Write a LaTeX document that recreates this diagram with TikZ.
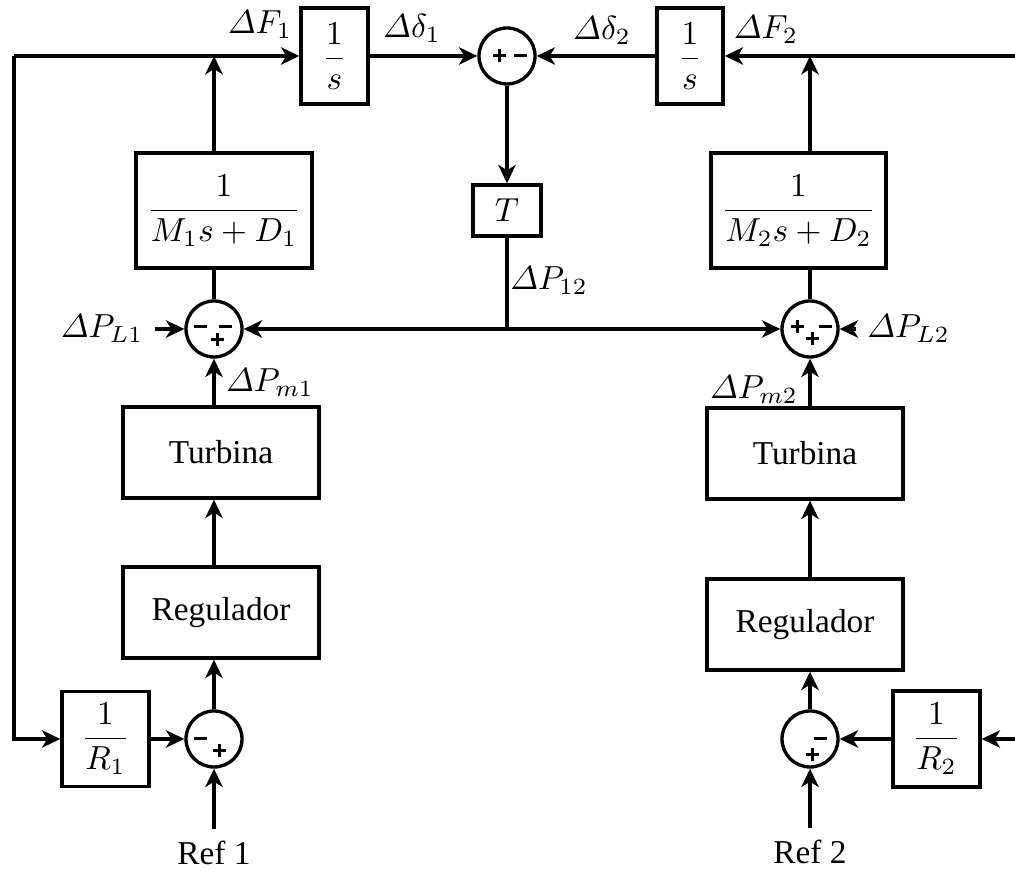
\documentclass[tikz,border=0pt]{standalone}
\usepackage{amsmath}
\usepackage[no-math]{fontspec}
\setmainfont{Liberation Serif}
\usepackage{tikz}
\usetikzlibrary{arrows.meta,calc,positioning}

\newcommand{\sgnplus}{\rlap{\rule[1.5pt]{3.9pt}{0.9pt}}\hspace{1.5pt}\rule{0.9pt}{3.9pt}\hspace{1.5pt}}
\newcommand{\sgnminus}{\rule{3.9pt}{0.9pt}}

\tikzset{
  blk/.style={draw,line width=1pt,inner sep=2pt},
  sumj/.style={draw,circle,line width=1pt,minimum size=16.8pt,inner sep=0pt},
  sgn/.style={inner sep=0pt},
  wire/.style={line width=1pt},
  sig/.style={wire,-{Stealth[length=5.5pt,width=5.2pt,inset=1.6pt]}},
}

\begin{document}
\begin{tikzpicture}[x=30pt,y=30pt]
  \useasboundingbox (0,0) rectangle (10.15,8.71);
  % top row
  \node[blk,minimum width=20.1pt,minimum height=28.8pt] (f1) at (3.345,8.15) {$\dfrac{1}{s}$};
  \node[blk,minimum width=19.8pt,minimum height=28.8pt] (f2) at (6.90,8.15) {$\dfrac{1}{s}$};
  \node[sumj] (sd) at (5.07,8.15) {};
  \node[blk,minimum width=20.4pt,minimum height=15.3pt] (t) at (5.07,6.605) {$T$};
  % area 1
  \node[blk,minimum width=52.8pt,minimum height=34.5pt] (g1) at (2.24,6.605) {$\dfrac{1}{M_1s+D_1}$};
  \node[sumj] (s1) at (2.14,5.42) {};
  \node[blk,minimum width=58.8pt,minimum height=27.3pt] (tb1) at (2.21,4.185) {Turbina};
  \node[blk,minimum width=58.8pt,minimum height=27.3pt] (rg1) at (2.21,2.585) {Regulador};
  \node[sumj] (c1) at (2.14,1.32) {};
  \node[blk,minimum width=26.1pt,minimum height=28.5pt] (r1) at (1.055,1.32) {$\dfrac{1}{R_1}$};
  \node (ref1) at (2.14,0.18) {Ref 1};
  % area 2
  \node[blk,minimum width=52.5pt,minimum height=34.5pt] (g2) at (7.985,6.605) {$\dfrac{1}{M_2s+D_2}$};
  \node[sumj] (s2) at (8.10,5.42) {};
  \node[blk,minimum width=58.8pt,minimum height=27.3pt] (tb2) at (8.05,4.175) {Turbina};
  \node[blk,minimum width=58.8pt,minimum height=27.3pt] (rg2) at (8.05,2.465) {Regulador};
  \node[sumj] (c2) at (8.10,1.32) {};
  \node[blk,minimum width=26.1pt,minimum height=28.8pt] (r2) at (9.365,1.32) {$\dfrac{1}{R_2}$};
  \node (ref2) at (8.10,0.19) {Ref 2};

  % signs
  \node[sgn] (sd-p) at ($(sd)+(-0.10,0)$) {\sgnplus};
  \node[sgn] (sd-m) at ($(sd)+(0.13,0)$) {\sgnminus};
  \node[sgn] (s1-m1) at ($(s1)+(-0.14,0.02)$) {\sgnminus};
  \node[sgn] (s1-m2) at ($(s1)+(0.11,0.02)$) {\sgnminus};
  \node[sgn] (s1-p) at ($(s1)+(0.01,-0.11)$) {\sgnplus};
  \node[sgn] (s2-p1) at ($(s2)+(-0.15,0.02)$) {\sgnplus};
  \node[sgn] (s2-m) at ($(s2)+(0.15,0.02)$) {\sgnminus};
  \node[sgn] (s2-p2) at ($(s2)+(0,-0.10)$) {\sgnplus};
  \node[sgn] (c1-m) at ($(c1)+(-0.14,0)$) {\sgnminus};
  \node[sgn] (c1-p) at ($(c1)+(0.03,-0.12)$) {\sgnplus};
  \node[sgn] (c2-m) at ($(c2)+(0.10,0)$) {\sgnminus};
  \node[sgn] (c2-p) at ($(c2)+(0,-0.16)$) {\sgnplus};

  % labels
  \node (df1) at (2.60,8.46) {$\varDelta F_1$};
  \node (df2) at (7.66,8.41) {$\varDelta F_2$};
  \node (dd1) at (4.12,8.43) {$\varDelta\delta_1$};
  \node (dd2) at (6.02,8.41) {$\varDelta\delta_2$};
  \node (dp12) at (5.49,5.90) {$\varDelta P_{12}$};
  \node (pl1) at (1.02,5.42) {$\varDelta P_{L1}$};
  \node (pl2) at (9.085,5.42) {$\varDelta P_{L2}$};
  \node (pm1) at (2.70,4.88) {$\varDelta P_{m1}$};
  \node (pm2) at (7.54,4.81) {$\varDelta P_{m2}$};

  % feedback ends
  \coordinate (fbl) at (0.14,8.15);
  \coordinate (fbr) at (10.15,8.15);
  \coordinate (tj) at (t |- s1);

  % connectors, top
  \draw[sig] (fbl) -- (f1);
  \draw[sig] (fbl) |- (r1);
  \draw[sig] (fbr) -- (f2);
  \draw[sig] (fbr |- r2) -- (r2);
  \draw[sig] (f1) -- (sd);
  \draw[sig] (f2) -- (sd);
  \draw[sig] (sd) -- (t);
  \draw[wire] (t) -- (tj);
  \draw[sig] (tj) -- (s1);
  \draw[sig] (tj) -- (s2);
  \draw[sig] (pl1) -- (s1);
  \draw[sig] (pl2) -- (s2);
  % area 1
  \draw[wire] (s1) -- (g1.south -| s1);
  \draw[sig] (g1.north -| s1) -- (s1 |- f1);
  \draw[sig] (tb1.north -| s1) -- (s1);
  \draw[sig] (rg1.north -| s1) -- (tb1.south -| s1);
  \draw[sig] (c1) -- (rg1.south -| c1);
  \draw[sig] (r1) -- (c1);
  \draw[sig] (ref1) -- (c1);
  % area 2
  \draw[wire] (s2) -- (g2.south -| s2);
  \draw[sig] (g2.north -| s2) -- (s2 |- f2);
  \draw[sig] (tb2.north -| s2) -- (s2);
  \draw[sig] (rg2.north -| s2) -- (tb2.south -| s2);
  \draw[sig] (c2) -- (rg2.south -| c2);
  \draw[sig] (r2) -- (c2);
  \draw[sig] (ref2) -- (c2);
\end{tikzpicture}
\end{document}
